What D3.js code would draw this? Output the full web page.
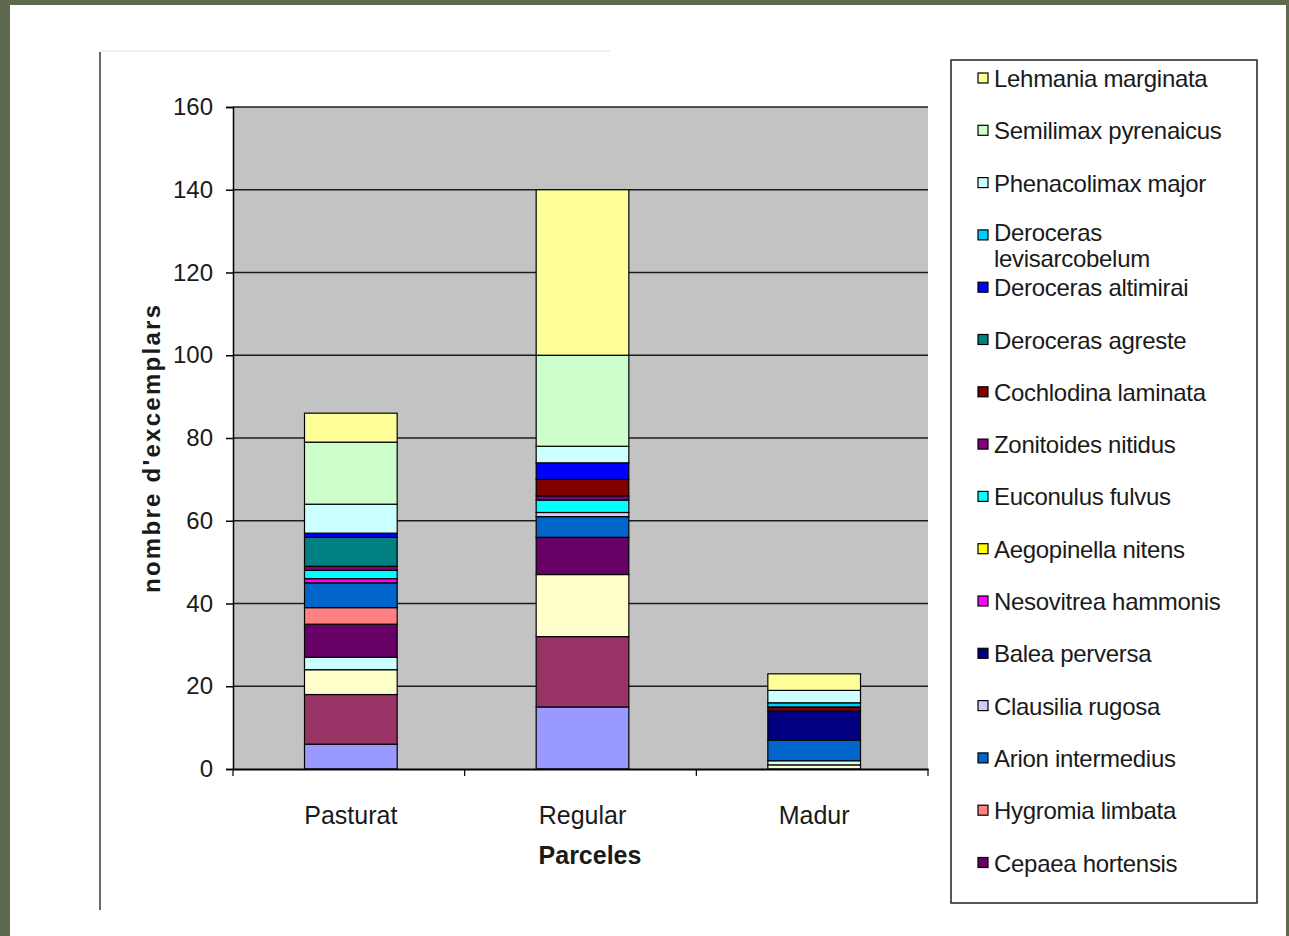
<!DOCTYPE html>
<html>
<head>
<meta charset="utf-8">
<script src="https://cdn.jsdelivr.net/npm/d3@7"></script>
<style>
  html, body { margin: 0; padding: 0; background: #5d6a50; }
  svg { display: block; }
  text { font-family: "Liberation Sans", Arial, sans-serif; fill: #1a1a1a; }
</style>
</head>
<body>
<svg id="chart" width="1289" height="936"></svg>
<script>
// Plots (parcel types) along the x axis
const categories = ["Pasturat", "Regular", "Madur"];

// Species series, in stacking order (bottom to top)
const seriesNames = [
  "Sèrie 1", "Sèrie 2", "Sèrie 3", "Sèrie 4",
  "Cepaea hortensis", "Hygromia limbata", "Arion intermedius", "Clausilia rugosa",
  "Balea perversa", "Nesovitrea hammonis", "Aegopinella nitens", "Euconulus fulvus",
  "Zonitoides nitidus", "Cochlodina laminata", "Deroceras agreste", "Deroceras altimirai",
  "Deroceras levisarcobelum", "Phenacolimax major", "Semilimax pyrenaicus", "Lehmania marginata"
];

const seriesColors = [
  "#9999ff", "#993366", "#ffffcc", "#ccffff",
  "#660066", "#ff8080", "#0066cc", "#ccccff",
  "#000080", "#ff00ff", "#ffff00", "#00ffff",
  "#800080", "#800000", "#008080", "#0000ff",
  "#00ccff", "#ccffff", "#ccffcc", "#ffff99"
];

// Number of specimens per series: [Pasturat, Regular, Madur]
const pasturatValues = [6, 12, 6, 3, 8, 4, 6, 0, 0, 1, 0, 2, 1, 0, 7, 1, 0, 7, 15, 7];
const regularValues  = [15, 17, 15, 0, 9, 0, 5, 1, 0, 0, 0, 3, 1, 4, 0, 4, 0, 4, 22, 40];
const madurValues    = [0, 0, 1, 1, 0, 0, 5, 0, 7, 0, 0, 0, 0, 1, 0, 0, 1, 3, 0, 4];

// Only the upper sixteen series fit in the legend box
const legendCount = 16;

const yTicks = [0, 20, 40, 60, 80, 100, 120, 140, 160];

const svg = d3.select("#chart");

// slide background
svg.append("rect").attr("x", 10).attr("y", 5).attr("width", 1276).attr("height", 931).attr("fill", "#ffffff");
// chart area edges
svg.append("line").attr("x1", 100).attr("x2", 100).attr("y1", 52).attr("y2", 910)
  .attr("stroke", "#6a6a6a").attr("stroke-width", 2);
svg.append("line").attr("x1", 100).attr("x2", 610).attr("y1", 51).attr("y2", 51)
  .attr("stroke", "#f1f1f1").attr("stroke-width", 2);

const plot = { left: 233, right: 928, top: 107, bottom: 769 };

const x = d3.scaleBand().domain(categories).range([plot.left, plot.right])
  .paddingInner(0.6).paddingOuter(0.3);
const y = d3.scaleLinear().domain([0, 160]).range([plot.bottom, plot.top]);

// plot area
svg.append("rect").attr("x", plot.left).attr("y", plot.top)
  .attr("width", plot.right - plot.left).attr("height", plot.bottom - plot.top)
  .attr("fill", "#c3c3c3");

// gridlines
svg.append("g").selectAll("line").data(yTicks.filter(d => d > 0)).join("line")
  .attr("x1", plot.left).attr("x2", plot.right)
  .attr("y1", d => y(d)).attr("y2", d => y(d))
  .attr("stroke", "#1c1c1c").attr("stroke-width", 1.5);

// stacked bars
const rows = categories.map((c, i) => {
  const row = { category: c };
  const vals = [pasturatValues, regularValues, madurValues][i];
  seriesNames.forEach((s, k) => { row[s] = vals[k]; });
  return row;
});
const stacked = d3.stack().keys(seriesNames)(rows);
const color = d3.scaleOrdinal().domain(seriesNames).range(seriesColors);

svg.append("g").attr("transform", "translate(2,0)")
  .selectAll("g").data(stacked).join("g")
  .attr("fill", d => color(d.key))
  .selectAll("rect").data(d => d.filter(p => p[1] > p[0])).join("rect")
  .attr("x", d => x(d.data.category))
  .attr("width", x.bandwidth())
  .attr("y", d => y(d[1]))
  .attr("height", d => y(d[0]) - y(d[1]))
  .attr("stroke", "#000").attr("stroke-width", 1.2);

// y axis
const yAxis = d3.axisLeft(y).tickValues(yTicks).tickSize(7).tickPadding(13);
const gy = svg.append("g").attr("transform", `translate(${plot.left},0)`).call(yAxis);
gy.select(".domain").attr("stroke", "#000").attr("stroke-width", 1.5);
gy.selectAll(".tick line").attr("stroke", "#000").attr("stroke-width", 1.5);
gy.selectAll(".tick text").attr("font-size", 24).attr("fill", "#1a1a1a")
  .attr("font-family", "Liberation Sans, Arial, sans-serif");

// x axis
const xAxis = d3.axisBottom(x).tickSize(0).tickPadding(37);
const gx = svg.append("g").attr("transform", `translate(0,${plot.bottom})`).call(xAxis);
gx.select(".domain").attr("stroke", "#000").attr("stroke-width", 2);
gx.selectAll(".tick").attr("transform", d => `translate(${x(d) + x.bandwidth() / 2 + 2},0)`);
gx.selectAll(".tick text").attr("font-size", 25).attr("fill", "#1a1a1a")
  .attr("font-family", "Liberation Sans, Arial, sans-serif");
// category separators
const step = x.step();
gx.append("g").selectAll("line").data(d3.range(categories.length + 1)).join("line")
  .attr("x1", i => plot.left + i * step).attr("x2", i => plot.left + i * step)
  .attr("y1", 0).attr("y2", 7)
  .attr("stroke", "#000").attr("stroke-width", 1.2);

// axis titles
svg.append("text").attr("x", 590).attr("y", 864)
  .attr("text-anchor", "middle").attr("font-size", 25).attr("font-weight", "bold")
  .text("Parceles");
svg.append("text").attr("transform", "translate(160,449) rotate(-90)")
  .attr("text-anchor", "middle").attr("font-size", 24).attr("font-weight", "bold")
  .attr("textLength", 288).attr("lengthAdjust", "spacing")
  .text("nombre d'excemplars");

// legend
const legendBox = { x: 951, y: 60, w: 306, h: 843 };
svg.append("rect").attr("x", legendBox.x).attr("y", legendBox.y)
  .attr("width", legendBox.w).attr("height", legendBox.h)
  .attr("fill", "#ffffff").attr("stroke", "#222").attr("stroke-width", 1.5);

const legendItems = seriesNames.slice(-legendCount).reverse();
const lg = svg.append("g").selectAll("g").data(legendItems).join("g")
  .attr("transform", (d, i) => `translate(978,${78 + i * 52.3})`);
lg.append("rect").attr("x", 0).attr("y", -5).attr("width", 10).attr("height", 10)
  .attr("fill", d => color(d)).attr("stroke", "#000").attr("stroke-width", 1.2);
lg.each(function(d) {
  const wrapped = d === "Deroceras levisarcobelum";
  const t = d3.select(this).append("text").attr("x", 16).attr("y", wrapped ? -3 : 0)
    .attr("dominant-baseline", "central").attr("font-size", 24).attr("letter-spacing", -0.3);
  const lines = wrapped ? ["Deroceras", "levisarcobelum"] : [d];
  lines.forEach((ln, k) => {
    t.append("tspan").attr("x", 16).attr("dy", k === 0 ? 0 : 26).text(ln);
  });
});
</script>
</body>
</html>
